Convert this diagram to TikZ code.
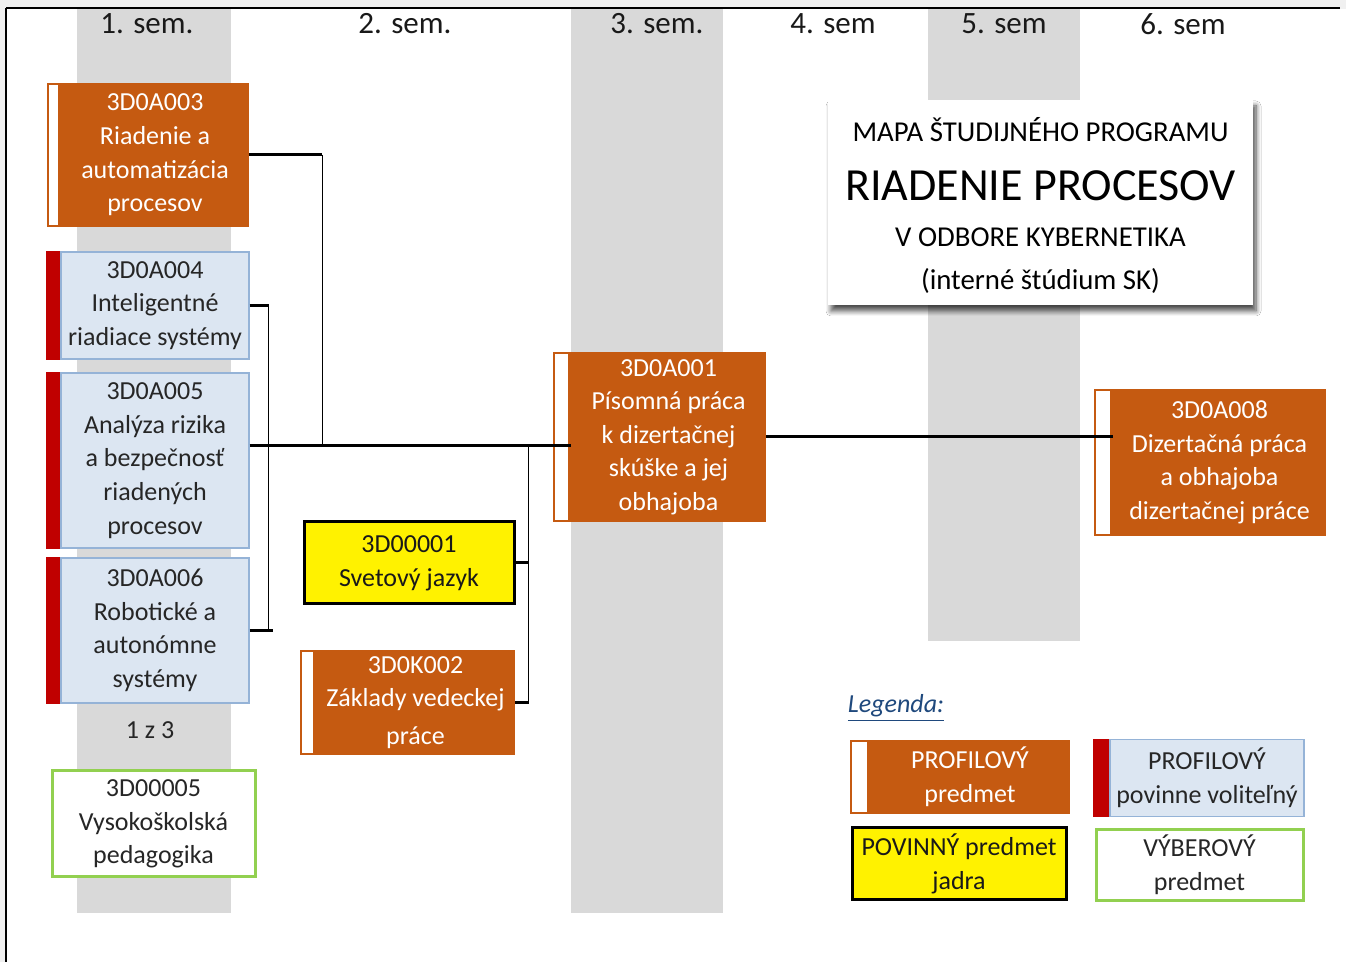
\documentclass[tikz,border=0pt]{standalone}
\usepackage{fontspec}
\setmainfont{Carlito}
\usepackage{tikz}
\usetikzlibrary{positioning, shadows, shadows.blur}
\definecolor{profilorange}{HTML}{C55A11}
\definecolor{volblue}{HTML}{DCE6F2}
\definecolor{volborder}{HTML}{95B3D7}
\definecolor{volred}{HTML}{C00000}
\definecolor{vybergreen}{HTML}{92D050}
\definecolor{semgray}{HTML}{D9D9D9}
\definecolor{legblue}{HTML}{1F497D}
\definecolor{pagegray}{HTML}{F0F0F0}
\tikzset{
  profilbox/.style = {fill=profilorange, text=white},
  volbox/.style    = {fill=volblue, draw=volborder, line width=0.6pt, text=black!85},
  jadrobox/.style  = {fill=yellow, draw=black, line width=1.5pt, text=black!90},
  vyberbox/.style  = {fill=white, draw=vybergreen, line width=1.5pt, text=black!85},
}

\begin{document}
\begin{tikzpicture}[
            x=0.5pt, y=-0.5pt,
            every node/.style={font=\fontsize{13}{16.8}\selectfont},
            course/.style={align=center, inner sep=0pt},
            sem/.style={font=\fontsize{15.5}{18}\selectfont, text=black!90},
            thickln/.style={line width=1.5pt},
            thinln/.style={line width=0.6pt},
            wstrip/.style={fill=white, draw=profilorange, line width=1.2pt},
            rstrip/.style={fill=volred},
            titlebox/.style={fill=white, align=center, inner sep=0pt,
                    minimum width=212.5pt, minimum height=102.5pt,
                    blur shadow={shadow xshift=1.5pt, shadow yshift=-3pt,
                        shadow blur steps=8, shadow blur radius=2.5pt,
                        shadow opacity=70}}
        ]
        \useasboundingbox (0,0) rectangle (1346,962);

        %% --- page and semester bands ------------------------------------
        \fill[pagegray] (0,0) rectangle (1346,962);
        \fill[white] (7,9) rectangle (1346,962);
        \draw[line width=1pt] (6,8) -- (1340,8);
        \draw[line width=1.2pt] (6,8) -- (6,962);
        \fill[semgray] (77,9) rectangle (231,913);
        \fill[semgray] (571,9) rectangle (723,913);
        \fill[semgray] (928,9) rectangle (1080,641);

        \node[sem] (sem1) at (147,24) {1. sem.};
        \node[sem] (sem2) at (405,24) {2. sem.};
        \node[sem] (sem3) at (657,24) {3. sem.};
        \node[sem] (sem4) at (833,24) {4. sem};
        \node[sem] (sem5) at (1004,24) {5. sem};
        \node[sem] (sem6) at (1183,24) {6. sem};

        %% --- 1. semester -------------------------------------------------
        \node[course, profilbox, minimum width=94pt, minimum height=72pt]
            (a003) at (155,155) {3D0A003\\Riadenie a\\automatizácia\\procesov};
        \node[course, volbox, minimum width=94pt, minimum height=53.5pt]
            (a004) at (155,305.5) {3D0A004\\Inteligentné\\riadiace systémy};
        \node[course, volbox, minimum width=94pt, minimum height=87.5pt]
            (a005) at (155,460.5) {3D0A005\\Analýza rizika\\a bezpečnosť\\riadených\\procesov};
        \node[course, volbox, minimum width=94pt, minimum height=72.5pt]
            (a006) at (155,630.5) {3D0A006\\Robotické a\\autonómne\\systémy};
        \node[text=black!85] (oneof3) at (150,730) {1 z 3};
        \node[course, vyberbox, minimum width=101.5pt, minimum height=53pt]
            (d005) at (153.5,824) {3D00005\\Vysokoškolská\\pedagogika};

        \draw[wstrip] ([xshift=-6.4pt,yshift=-0.6pt]a003.north west) rectangle ([xshift=-0.6pt,yshift=0.6pt]a003.south west);
        \fill[rstrip] ([xshift=-7pt]a004.north west) rectangle (a004.south west);
        \fill[rstrip] ([xshift=-7pt]a005.north west) rectangle (a005.south west);
        \fill[rstrip] ([xshift=-7pt]a006.north west) rectangle (a006.south west);

        %% --- 2. semester -------------------------------------------------
        \node[course, jadrobox, minimum width=105pt, minimum height=41pt]
            (d001) at (409,563) {3D00001\\Svetový jazyk};
        \node[course, profilbox, minimum width=99.5pt, minimum height=52.5pt]
            (k002) at (415.5,702.5) {3D0K002\\Základy vedeckej\\[2pt]práce};
        \draw[wstrip] ([xshift=-7.4pt,yshift=-0.6pt]k002.north west) rectangle ([xshift=-0.6pt,yshift=0.6pt]k002.south west);

        %% --- 3. and 6. semester ------------------------------------------
        \node[course, profilbox, minimum width=97.5pt, minimum height=85pt]
            (a001) at (668.5,437) {3D0A001\\Písomná práca\\k dizertačnej\\skúške a jej\\obhajoba};
        \draw[wstrip] ([xshift=-8.4pt,yshift=-0.6pt]a001.north west) rectangle ([xshift=-0.6pt,yshift=0.6pt]a001.south west);
        \node[course, profilbox, minimum width=106.5pt, minimum height=73.5pt]
            (a008) at (1219.5,462.5) {3D0A008\\Dizertačná práca\\a obhajoba\\dizertačnej práce};
        \draw[wstrip] ([xshift=-8.9pt,yshift=-0.6pt]a008.north west) rectangle ([xshift=-0.6pt,yshift=0.6pt]a008.south west);

        %% --- title ---------------------------------------------------------
        \node[titlebox] (title) at (1040.5,202.5) {%
            \mbox{}\\[-2pt]
            {\fontsize{14.4}{17}\selectfont MAPA ŠTUDIJNÉHO PROGRAMU}\\[13pt]
            {\fontsize{23}{26}\selectfont RIADENIE PROCESOV}\\[6pt]
            {\fontsize{14.4}{17}\selectfont V ODBORE KYBERNETIKA}\\[4.5pt]
            {\fontsize{14.4}{17}\selectfont (interné štúdium SK)}};

        %% --- connectors ----------------------------------------------------
        \coordinate (bus) at (400,446);
        \draw[thickln] (a005.east |- bus) -- (a001.west |- bus);
        \draw[thickln] (a003.east) -- ++(73,0) coordinate (j3);
        \draw[thinln] (j3) -- (j3 |- bus);
        \draw[thickln] (a004.east) -- ++(19,0) coordinate (j4);
        \draw[thickln] (a006.east) -- ++(23,0);
        \draw[thinln] (j4) -- (j4 |- a006.east);
        \draw[thickln] (d001.east) -- ++(13,0) coordinate (j1);
        \draw[thickln] (k002.east) -- (k002.east -| j1);
        \draw[thinln] (j1 |- bus) -- (j1 |- k002.east);
        \draw[thickln] (a001.east) -- (a001.east -| a008.west);

        %% --- legend --------------------------------------------------------
        \node[font=\fontsize{13}{16}\selectfont\itshape, text=legblue]
            (leg) at (896,708) {\underline{Legenda:}};
        \node[course, profilbox, minimum width=100pt, minimum height=37pt]
            (lg1) at (970,777) {PROFILOVÝ\\predmet};
        \draw[wstrip] ([xshift=-9.4pt,yshift=-0.6pt]lg1.north west) rectangle ([xshift=-0.6pt,yshift=0.6pt]lg1.south west);
        \node[course, volbox, minimum width=97pt, minimum height=38.5pt]
            (lg2) at (1207,778) {PROFILOVÝ\\povinne voliteľný};
        \fill[rstrip] ([xshift=-8pt]lg2.north west) rectangle (lg2.south west);
        \node[course, jadrobox, minimum width=107pt, minimum height=36pt]
            (lg3) at (959,864) {POVINNÝ predmet\\jadra};
        \node[course, vyberbox, minimum width=103.5pt, minimum height=35.5pt]
            (lg4) at (1199.5,865) {VÝBEROVÝ\\predmet};

    \end{tikzpicture}
\end{document}
